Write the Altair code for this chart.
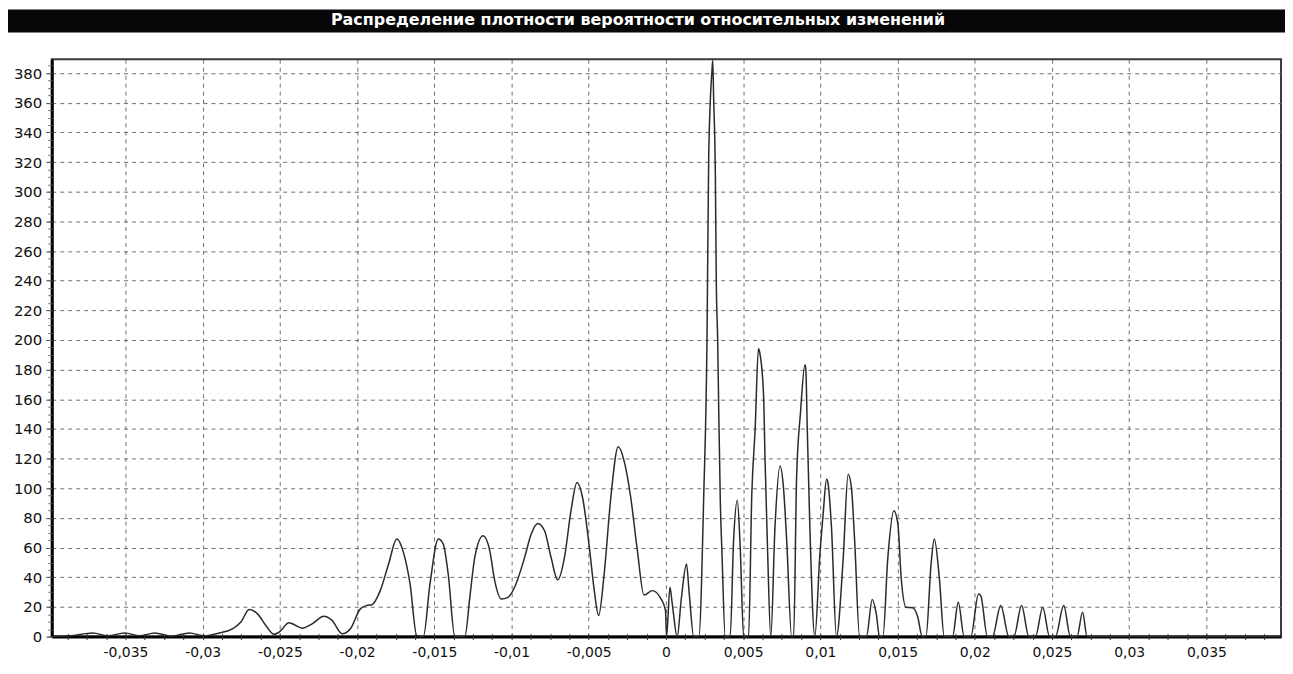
import altair as alt
import pandas as pd

title_text = "Распределение плотности вероятности относительных изменений"

x_vals = [
    -0.03975, -0.03859, -0.03711, -0.03614, -0.03505, -0.03408, -0.03311, -0.03202,
    -0.03086, -0.02989, -0.02892, -0.02808, -0.02752, -0.02699, -0.02645, -0.02591,
    -0.02538, -0.02505, -0.02441, -0.02355, -0.02291, -0.02215, -0.02162, -0.02097,
    -0.02043, -0.01979, -0.01936, -0.01904, -0.01850, -0.01796, -0.01743, -0.01700,
    -0.01657, -0.01614, -0.01571, -0.01528, -0.01474, -0.01442, -0.01410, -0.01367,
    -0.01302, -0.01270, -0.01238, -0.01184, -0.01141, -0.01109, -0.01066, -0.01023,
    -0.00980, -0.00915, -0.00873, -0.00830, -0.00786, -0.00744, -0.00701, -0.00657,
    -0.00615, -0.00576, -0.00540, -0.00496, -0.00464, -0.00436, -0.00400, -0.00357,
    -0.00309, -0.00271, -0.00228, -0.00185, -0.00142, -0.00088, -0.00035, -0.00003,
    0.00004, 0.00026, 0.00041, 0.00073, 0.00099, 0.00133, 0.00150, 0.00180,
    0.00213, 0.00245, 0.00266, 0.00277, 0.00298, 0.00303, 0.00309, 0.00320,
    0.00326, 0.00335, 0.00342, 0.00352, 0.00363, 0.00384, 0.00416, 0.00438,
    0.00462, 0.00481, 0.00503, 0.00535, 0.00556, 0.00578, 0.00599, 0.00610,
    0.00632, 0.00642, 0.00657, 0.00679, 0.00706, 0.00739, 0.00761, 0.00782,
    0.00814, 0.00827, 0.00846, 0.00872, 0.00900, 0.00906, 0.00915, 0.00932,
    0.00964, 0.00997, 0.01018, 0.01040, 0.01051, 0.01072, 0.01104, 0.01147,
    0.01180, 0.01201, 0.01222, 0.01254, 0.01298, 0.01336, 0.01362, 0.01383,
    0.01405, 0.01437, 0.01476, 0.01502, 0.01523, 0.01555, 0.01599, 0.01631,
    0.01659, 0.01684, 0.01717, 0.01738, 0.01770, 0.01802, 0.01856, 0.01893,
    0.01931, 0.01974, 0.02024, 0.02039, 0.02082, 0.02114, 0.02168, 0.02221,
    0.02253, 0.02303, 0.02350, 0.02393, 0.02440, 0.02484, 0.02522, 0.02576,
    0.02619, 0.02662, 0.02698, 0.02727, 0.03983,
]

density = [
    0, 0.5, 2.5, 0.5, 2.5, 0.5, 2.5, 0.3,
    2.5, 0.5, 2.4, 5.2, 9.8, 18.3, 15.3, 7.5,
    1.5, 3, 9.3, 5.7, 8.6, 13.8, 10.9, 1.9,
    5.3, 18.7, 21, 21.5, 31, 49, 65.8, 56.8,
    35.5, 0.8, 0, 35.5, 65.8, 62.4, 42.2, 0,
    0, 26.5, 53.4, 68, 58, 37.8, 25.4, 26.5,
    33.3, 53.4, 69, 76.3, 71.4, 53.4, 38.2, 53.4,
    84.8, 103.9, 93.8, 60.2, 31, 14.2, 42.2, 93.8,
    128, 118.5, 93.8, 58, 28, 31, 26, 17.6,
    0, 33.3, 22, 0, 25, 49, 30, 0,
    0, 96, 201, 324.6, 381.7, 388.5, 362.7, 311,
    239.5, 200, 152, 91.6, 55.7, 0, 0, 64.7,
    92, 60.2, 0, 0, 96, 140.8, 194.2, 190,
    163.2, 118.5, 62.4, 0, 73.6, 115, 100.5, 64.7,
    0, 0, 107.2, 152, 183.4, 180, 140.8, 73.6,
    0, 55.7, 82.6, 106.1, 102.5, 73.6, 0, 51.2,
    109.5, 100.5, 64.7, 0, 0, 25, 15.3, 0,
    0, 53.4, 84.8, 75.8, 40, 19.8, 19.5, 13.1,
    0, 0, 49, 65.8, 40, 0, 0, 23.2,
    0, 0, 28.8, 27.5, 0, 0, 21, 0,
    0, 21, 0, 0, 19.8, 0, 0, 21,
    0, 0, 16.5, 0, 0,
]

x_major = [-0.035, -0.03, -0.025, -0.02, -0.015, -0.01, -0.005, 0,
           0.005, 0.01, 0.015, 0.02, 0.025, 0.03, 0.035]
x_minor = [round(-0.03875 + 0.00125 * i, 5) for i in range(63)]
y_major = [0, 20, 40, 60, 80, 100, 120, 140, 160, 180, 200,
           220, 240, 260, 280, 300, 320, 340, 360, 380]
y_minor = [v for v in range(0, 390, 5)]
x_domain = [-0.03977, 0.03983]
y_domain = [0, 389.3]

df = pd.DataFrame({"x": x_vals, "y": density})
title_df = pd.DataFrame({"title": [title_text]})

W, H = 1235, 580
PAD_L, PAD_T, PAD_R, PAD_B = 44, 50, 4, 28

label_expr = "replace(replace(format(datum.value, '.3~f'), '.', ','), '\u2212', '-')"

xscale = alt.Scale(domain=x_domain, nice=False, zero=False)
yscale = alt.Scale(domain=y_domain, nice=False, zero=False)

base = alt.Chart(df)

line = base.mark_line(color="#2a2a2a", strokeWidth=1.5, interpolate="monotone").encode(
    x=alt.X("x:Q", scale=xscale, axis=alt.Axis(
        values=x_major, orient="bottom", title=None, grid=True,
        gridDash=[4, 4], gridColor="#6e6e6e", gridWidth=1, gridOpacity=1,
        ticks=False, tickSize=0, labelPadding=9, labelExpr=label_expr,
        labelFont="DejaVu Sans", labelFontSize=14, labelColor="#111111",
        labelBaseline="top", labelFlush=False, labelOverlap=False,
        domainColor="#000000", domainWidth=3)),
    y=alt.Y("y:Q", scale=yscale, axis=alt.Axis(
        values=y_major, orient="left", title=None, grid=True,
        gridDash=[4, 4], gridColor="#6e6e6e", gridWidth=1, gridOpacity=1,
        tickSize=6, tickColor="#444444", labelPadding=4,
        labelFont="DejaVu Sans", labelFontSize=15, labelColor="#111111",
        labelFlush=False, labelOverlap=False,
        domainColor="#000000", domainWidth=3)),
)

minor = base.mark_line(opacity=0).encode(
    x=alt.X("x:Q", scale=xscale, axis=alt.Axis(
        values=x_minor, orient="bottom", title=None, labels=False, grid=False,
        domain=False, tickSize=6, offset=-3, tickColor="#333333")),
    y=alt.Y("y:Q", scale=yscale, axis=alt.Axis(
        values=y_minor, orient="left", title=None, labels=False, grid=False,
        domain=False, tickSize=4, tickColor="#666666")),
)

bar = alt.Chart(title_df).mark_rect(color="#070707").encode(
    x=alt.value(-PAD_L), x2=alt.value(W + PAD_R),
    y=alt.value(-PAD_T), y2=alt.value(-27),
)

title = alt.Chart(title_df).mark_text(
    color="white", font="DejaVu Sans", fontSize=16, fontWeight="bold",
    align="center", baseline="middle",
).encode(text="title:N", x=alt.value(589), y=alt.value(-39))

chart = alt.layer(line, minor, bar, title).resolve_axis(
    x="independent", y="independent"
).properties(
    width=W, height=H,
    autosize=alt.AutoSizeParams(type="none"),
    padding={"left": PAD_L, "top": PAD_T, "right": PAD_R, "bottom": PAD_B},
    background="white",
).configure_view(stroke="#3a3a3a", strokeWidth=2)

chart.save("out.html", embed_options={"renderer": "svg", "actions": False})
